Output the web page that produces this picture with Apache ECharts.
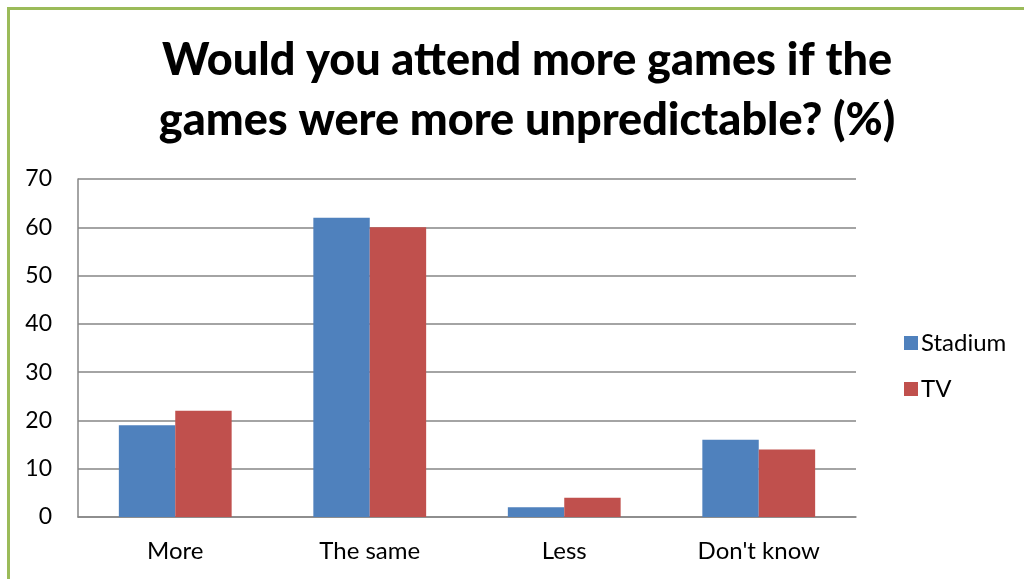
<!DOCTYPE html>
<html><head><meta charset="utf-8">
<script src="https://cdn.jsdelivr.net/npm/echarts@6/dist/echarts.min.js"></script>
<style>
html,body{margin:0;padding:0;background:#fff;}
#frame{position:absolute;left:7px;top:7px;width:1100px;height:700px;border-top:3px solid #9bbb59;border-left:3px solid #9bbb59;}
#c{position:absolute;left:0;top:0;width:1024px;height:579px;}
</style></head>
<body><div id="frame"></div><div id="c"></div>
<script>
const categories = ["More", "The same", "Less", "Don't know"];
const stadium = [19, 62, 2, 16];
const tv = [22, 60, 4, 14];
const titleText = "Would you attend more games if the\ngames were more unpredictable? (%)";
const font = "Lato, 'Open Sans', sans-serif";
const chart = echarts.init(document.getElementById('c'), null, {renderer:'canvas'});
chart.setOption({
  animation:false,
  title:{text:titleText,left:522,top:25,textAlign:'center',
    textStyle:{fontFamily:font,fontWeight:900,fontSize:45,lineHeight:60,color:'#000'}},
  grid:{left:78,right:168,top:179,bottom:62,containLabel:false},
  legend:{orient:'vertical',left:899,top:326,itemWidth:14,itemHeight:14,itemGap:22,icon:'rect',
    textStyle:{fontFamily:font,fontSize:24,color:'#000',padding:[0,0,0,-2]},
    data:['Stadium','TV']},
  xAxis:{type:'category',data:categories,
    axisLine:{lineStyle:{color:'#868686',width:1.5}},axisTick:{show:false},
    axisLabel:{fontFamily:font,fontSize:24,color:'#000',margin:22}},
  yAxis:{type:'value',min:0,max:70,interval:10,
    axisLine:{show:true,lineStyle:{color:'#868686',width:1.5}},axisTick:{show:false},
    splitLine:{lineStyle:{color:'#868686',width:1.5}},
    axisLabel:{fontFamily:font,fontSize:23,color:'#000',margin:26}},
  series:[
    {name:'Stadium',type:'bar',data:stadium,barGap:'0%',barCategoryGap:'42%',itemStyle:{color:'#4f81bd'}},
    {name:'TV',type:'bar',data:tv,itemStyle:{color:'#c0504d'}}
  ]
});
</script></body></html>
